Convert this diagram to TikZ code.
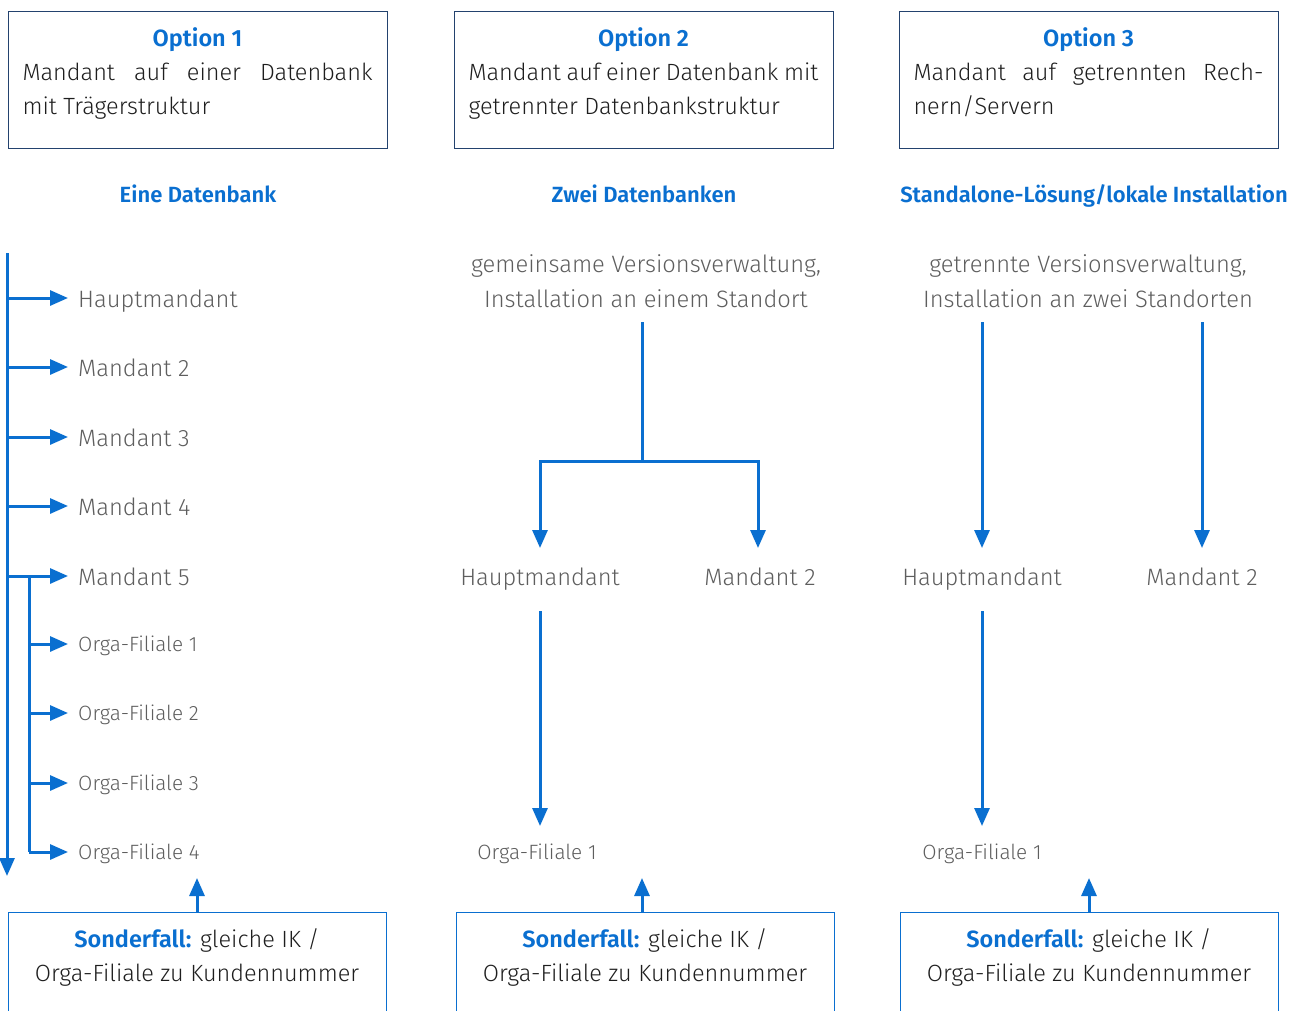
\documentclass[tikz,border=0pt]{standalone}
\usepackage{fontspec}
\setmainfont{Fira Sans}[UprightFont=* Light, BoldFont=* SemiBold]
\usetikzlibrary{arrows.meta}
\definecolor{myblue}{HTML}{0A6FD0}
\definecolor{navy}{HTML}{23426E}
\definecolor{txtgray}{HTML}{5E5E5E}
\definecolor{txtdark}{HTML}{1E1E1E}
\tikzset{
  lbl/.style={font=\fontsize{23.7}{28}\selectfont, text=txtgray, inner sep=0pt},
  small/.style={font=\fontsize{20.7}{24}\selectfont, text=txtgray, inner sep=0pt},
  desc/.style={font=\fontsize{23.7}{34.5}\selectfont, text=txtgray, inner sep=0pt, align=center},
  head/.style={font=\fontsize{22}{26}\selectfont\bfseries, text=myblue, inner sep=0pt},
  topbox/.style={draw=navy, line width=1.3pt, minimum width=379pt, minimum height=137pt, inner sep=0pt},
  bottombox/.style={draw=myblue, line width=1.3pt, minimum width=378pt, minimum height=140pt, inner sep=0pt},
  boxtext/.style={font=\fontsize{23.5}{34}\selectfont, text=txtdark, inner sep=0pt, align=center},
  conn/.style={draw=myblue, line width=3pt, -{Triangle[length=18pt,width=15pt]}},
  trunk/.style={draw=myblue, line width=3pt},
}
\begin{document}
\begin{tikzpicture}[x=1pt,y=-1pt]
\clip (0,0) rectangle (1299,1010);
\path[use as bounding box] (0,0) rectangle (1299,1010);

% ---------- top boxes ----------
\node[topbox, anchor=north west] (opt1) at (8,11) {};
\node[topbox, anchor=north west] (opt2) at (454,11) {};
\node[topbox, anchor=north west] (opt3) at (899,11) {};

% (base anchor = baseline of the last line)
\node[boxtext, anchor=base] (opt1t) at (197.5,114) {%
  \textcolor{myblue}{\bfseries Option 1}\\
  \makebox[350pt][s]{Mandant auf einer Datenbank}\\
  \makebox[350pt][l]{mit Trägerstruktur}};
\node[boxtext, anchor=base] (opt2t) at (643.5,114) {%
  \textcolor{myblue}{\bfseries Option 2}\\
  \makebox[350pt][s]{Mandant auf einer Datenbank mit}\\
  \makebox[350pt][l]{getrennter Datenbankstruktur}};
\node[boxtext, anchor=base] (opt3t) at (1088.5,114) {%
  \textcolor{myblue}{\bfseries Option 3}\\
  \makebox[350pt][s]{Mandant auf getrennten Rech-}\\
  \makebox[350pt][l]{nern/Servern}};

% ---------- headings ----------
\node[head, anchor=base] (h1) at (198,202) {Eine Datenbank};
\node[head, anchor=base] (h2) at (644,202) {Zwei Datenbanken};
\node[head, anchor=base] (h3) at (1094,202) {Standalone-Lösung/lokale Installation};

% ---------- option 1 tree ----------
\coordinate (t1top) at (7,253);
\coordinate (t1bot) at (7,876);
\draw[conn] (t1top) -- (t1bot);

\node[lbl, anchor=base west] (m1) at (78,307) {Hauptmandant};
\node[lbl, anchor=base west] (m2) at (78,376) {Mandant 2};
\node[lbl, anchor=base west] (m3) at (78,446) {Mandant 3};
\node[lbl, anchor=base west] (m4) at (78,515) {Mandant 4};
\node[lbl, anchor=base west] (m5) at (78,585) {Mandant 5};
\foreach \n in {m1,m2,m3,m4,m5}{
  \coordinate (e\n) at ([xshift=-10pt,yshift=9pt]\n.base west);
  \draw[conn] (t1top |- e\n) -- (e\n);
}
\node[small, anchor=base west] (f1) at (78,651) {Orga-Filiale 1};
\node[small, anchor=base west] (f2) at (78,720) {Orga-Filiale 2};
\node[small, anchor=base west] (f3) at (78,790) {Orga-Filiale 3};
\node[small, anchor=base west] (f4) at (78,859) {Orga-Filiale 4};
\coordinate (t2top) at (29,576);
\coordinate (t2bot) at (29,852);
\draw[trunk] (t2top) -- (t2bot);
\foreach \n in {f1,f2,f3,f4}{
  \coordinate (e\n) at ([xshift=-10pt,yshift=7pt]\n.base west);
  \draw[conn] (t2top |- e\n) -- (e\n);
}

% ---------- option 2 tree ----------
\node[desc, anchor=base] (v2) at (646,307) {gemeinsame Versionsverwaltung,\\Installation an einem Standort};
\node[lbl, anchor=base] (hm2) at (540,585) {Hauptmandant};
\node[lbl, anchor=base] (md2) at (760,585) {Mandant 2};
\node[small, anchor=base] (of2) at (537,859) {Orga-Filiale 1};
\coordinate (s2) at (642,322);
\coordinate (j2) at (642,461);
\draw[trunk] (s2) -- (j2);
\draw[conn] (j2) -| (540,548);
\draw[conn] (j2) -| (758,548);
\draw[conn] (540,611) -- (540,826);

% ---------- option 3 tree ----------
\node[desc, anchor=base] (v3) at (1088,307) {getrennte Versionsverwaltung,\\Installation an zwei Standorten};
\node[lbl, anchor=base] (hm3) at (982,585) {Hauptmandant};
\node[lbl, anchor=base] (md3) at (1202,585) {Mandant 2};
\node[small, anchor=base] (of3) at (982,859) {Orga-Filiale 1};
\draw[conn] (982,322) -- (982,548);
\draw[conn] (1202,322) -- (1202,548);
\draw[conn] (982,611) -- (982,826);

% ---------- bottom boxes ----------
\node[bottombox, anchor=north west] (b1) at (8,912) {};
\node[bottombox, anchor=north west] (b2) at (456,912) {};
\node[bottombox, anchor=north west] (b3) at (900,912) {};
\foreach \b/\x in {b1/197,b2/645,b3/1089}{
  \node[boxtext, anchor=base] (\b t) at (\x,981) {\textcolor{myblue}{\bfseries Sonderfall:} gleiche IK /\\Orga-Filiale zu Kundennummer};
}
\coordinate (u1) at (197,878);
\coordinate (u2) at (642,878);
\coordinate (u3) at (1089,878);
\draw[conn] (b1.north -| u1) -- (u1);
\draw[conn] (b2.north -| u2) -- (u2);
\draw[conn] (b3.north -| u3) -- (u3);
\end{tikzpicture}
\end{document}
